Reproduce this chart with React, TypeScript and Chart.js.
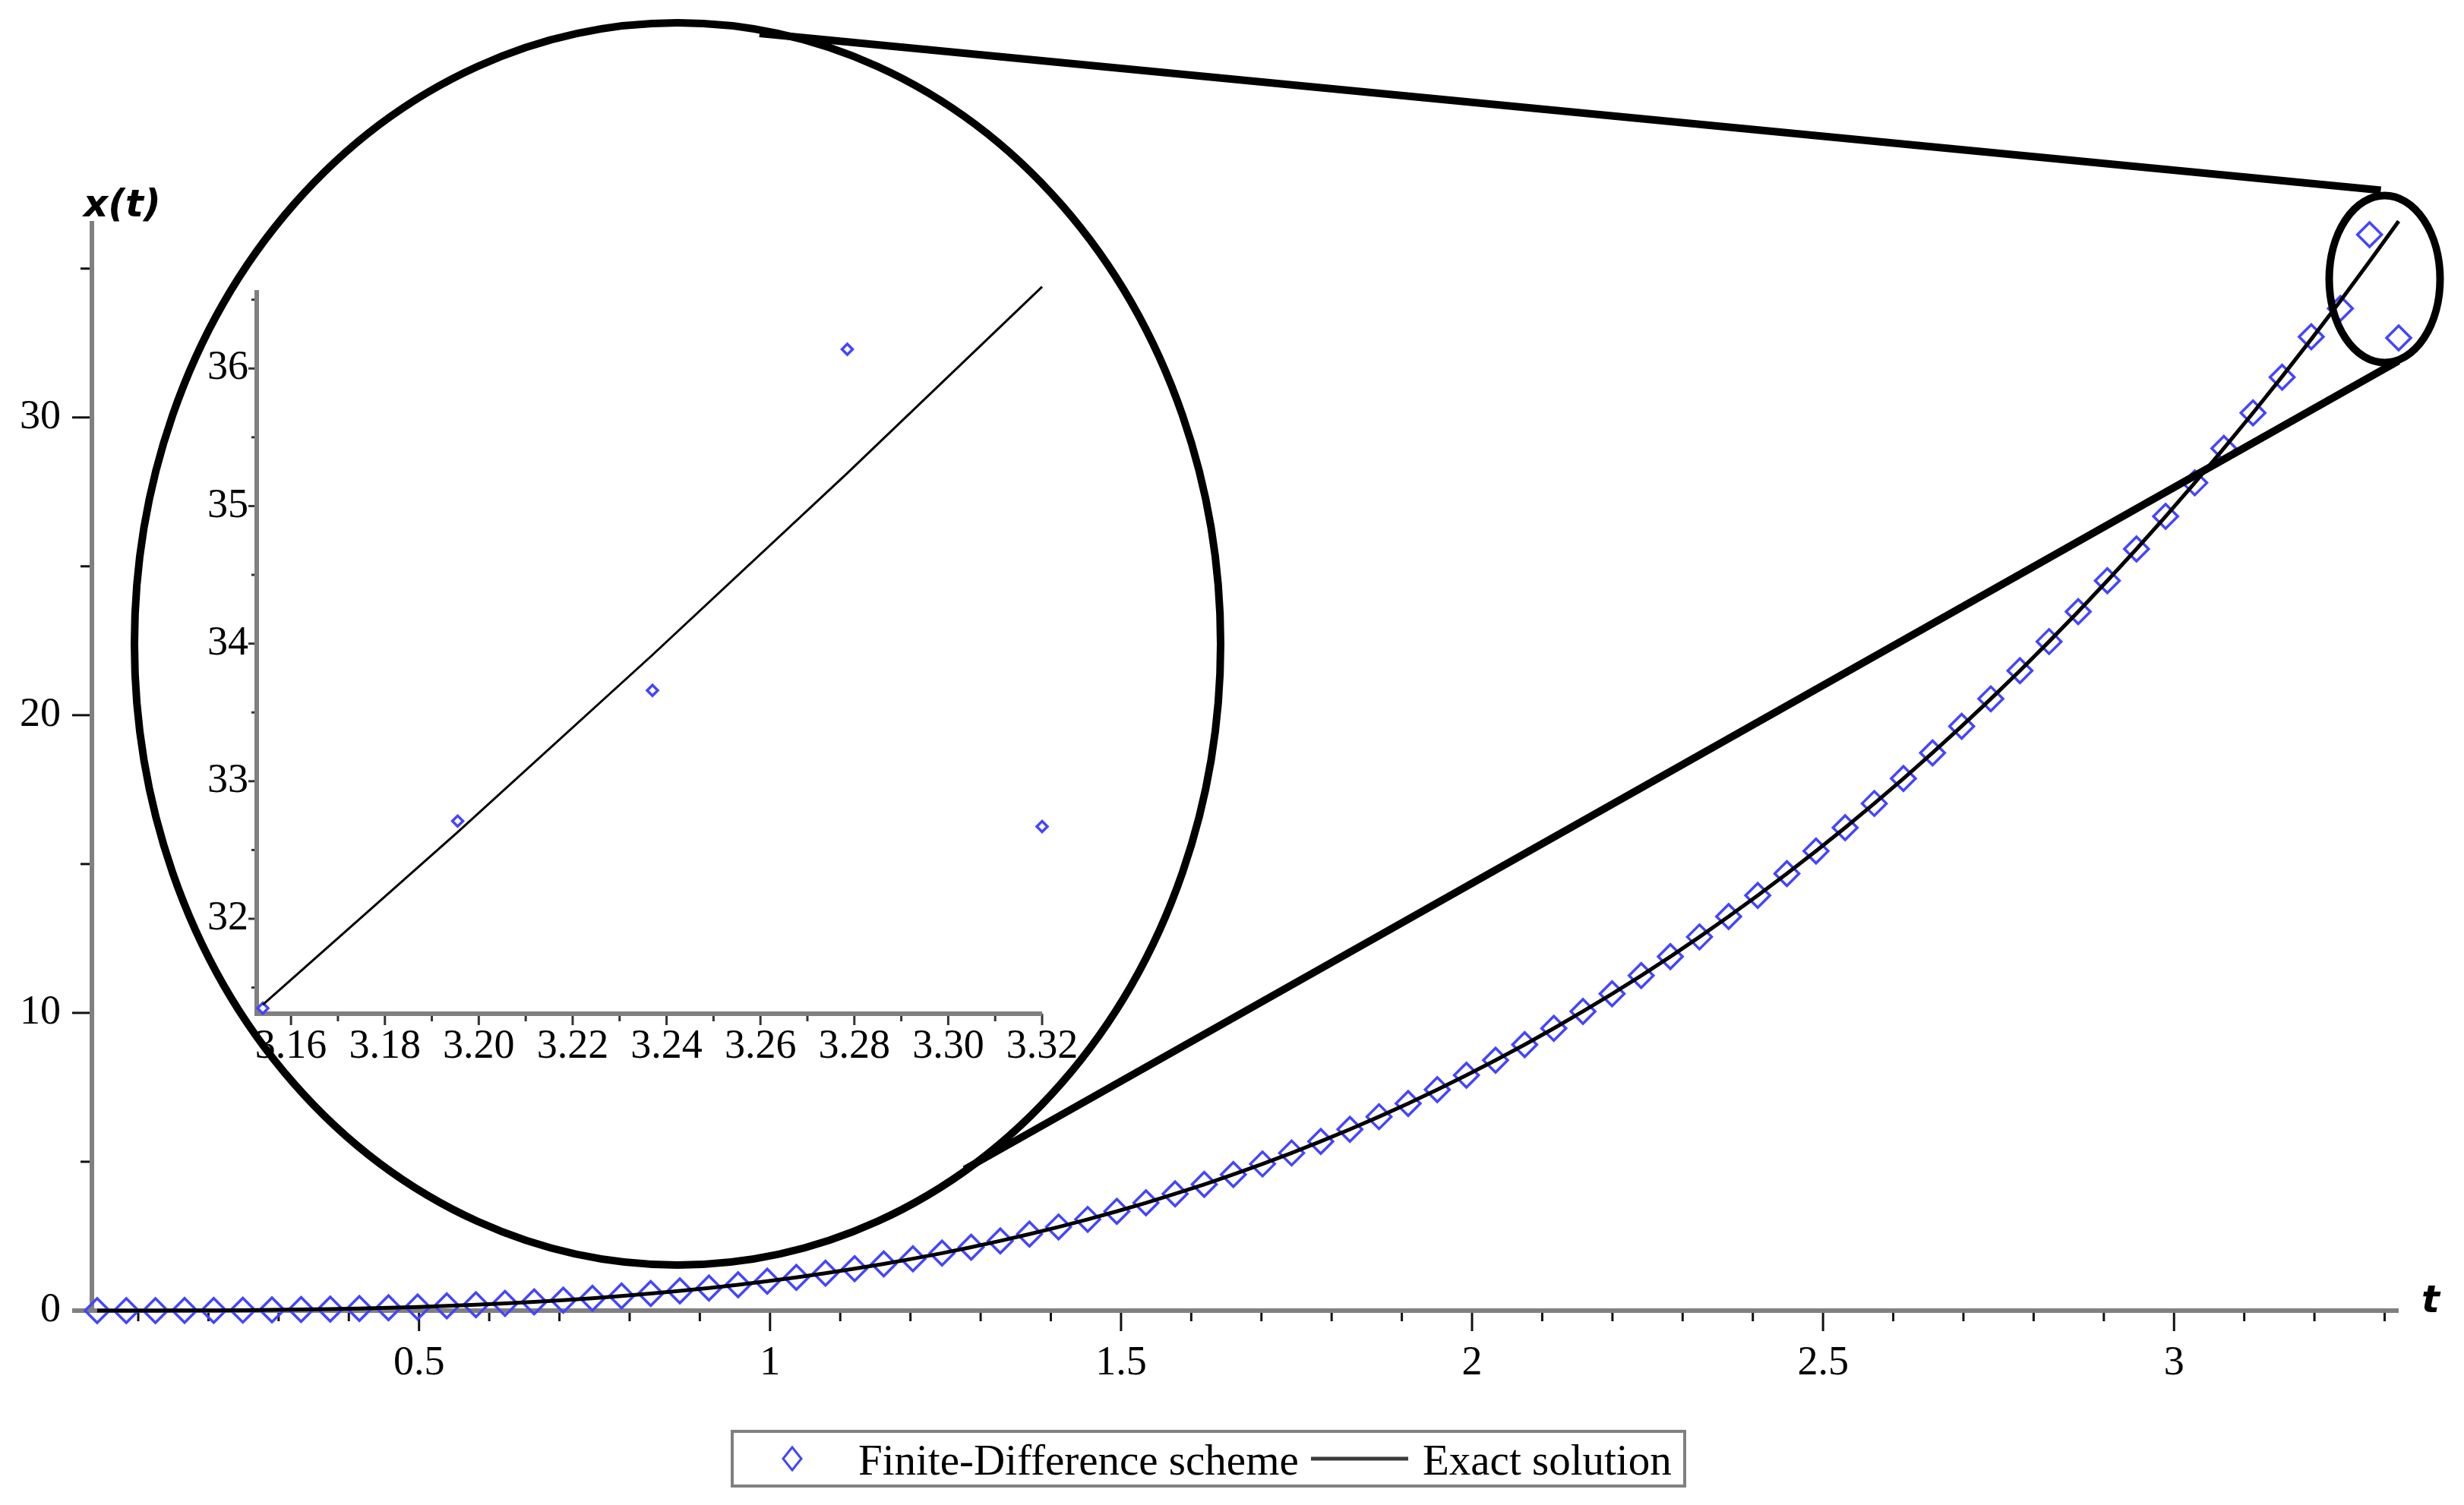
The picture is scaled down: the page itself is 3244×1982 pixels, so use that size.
import React, { useEffect, useRef } from 'react';
import { Chart, registerables } from 'chart.js';

Chart.register(...registerables);

// ---------------- data ----------------
const tValues = [
  0.0415, 0.083, 0.1245, 0.166, 0.2075, 0.249, 0.2905, 0.332, 0.3735, 0.415,
  0.4565, 0.498, 0.5395, 0.581, 0.6225, 0.664, 0.7055, 0.747, 0.7885, 0.83,
  0.8715, 0.913, 0.9545, 0.996, 1.0375, 1.079, 1.1205, 1.162, 1.2035, 1.245,
  1.2865, 1.328, 1.3695, 1.411, 1.4525, 1.494, 1.5355, 1.577, 1.6185, 1.66,
  1.7015, 1.743, 1.7845, 1.826, 1.8675, 1.909, 1.9505, 1.992, 2.0335, 2.075,
  2.1165, 2.158, 2.1995, 2.241, 2.2825, 2.324, 2.3655, 2.407, 2.4485, 2.49,
  2.5315, 2.573, 2.6145, 2.656, 2.6975, 2.739, 2.7805, 2.822, 2.8635, 2.905,
  2.9465, 2.988, 3.0295, 3.071, 3.1125, 3.154, 3.1955, 3.237, 3.2785, 3.32,
];

const exactValues = [
  0.0001, 0.0006, 0.0019, 0.0046, 0.0089, 0.0154, 0.0245, 0.0366, 0.0521, 0.0715,
  0.0951, 0.1235, 0.157, 0.1961, 0.2412, 0.2927, 0.3511, 0.4168, 0.4902, 0.5718,
  0.6619, 0.7611, 0.8696, 0.988, 1.1168, 1.2562, 1.4068, 1.569, 1.7431, 1.9298,
  2.1292, 2.342, 2.5685, 2.8092, 3.0644, 3.3346, 3.6204, 3.922, 4.2398, 4.5743,
  4.926, 5.2953, 5.6826, 6.0884, 6.5131, 6.957, 7.4207, 7.9045, 8.409, 8.934,
  9.481, 10.05, 10.641, 11.254, 11.891, 12.552, 13.236, 13.945, 14.679, 15.438,
  16.223, 17.034, 17.872, 18.736, 19.628, 20.548, 21.496, 22.473, 23.48, 24.515,
  25.581, 26.677, 27.804, 28.962, 30.153, 31.375, 32.63, 33.918, 35.239, 36.594,
];

const fdValues = [
  0.0001, 0.0006, 0.0019, 0.0046, 0.0089, 0.0154, 0.0245, 0.0366, 0.0521, 0.0715,
  0.0951, 0.1235, 0.157, 0.1961, 0.2412, 0.2927, 0.3511, 0.4168, 0.4902, 0.5718,
  0.6619, 0.7611, 0.8696, 0.988, 1.1168, 1.2562, 1.4068, 1.569, 1.7431, 1.9298,
  2.1292, 2.342, 2.5685, 2.8092, 3.0644, 3.3346, 3.6204, 3.922, 4.2398, 4.5743,
  4.926, 5.2953, 5.6826, 6.0884, 6.5131, 6.957, 7.4207, 7.9045, 8.409, 8.934,
  9.481, 10.05, 10.641, 11.254, 11.891, 12.552, 13.236, 13.945, 14.679, 15.438,
  16.223, 17.034, 17.872, 18.736, 19.628, 20.548, 21.496, 22.473, 23.48, 24.515,
  25.581, 26.677, 27.804, 28.962, 30.153, 31.35, 32.71, 33.66, 36.14, 32.67,
];

const seriesLabels = ['Finite-Difference scheme', 'Exact solution'];
const axisTitles = ['x(t)', 't'];

const mainXTicks = [
  0.1, 0.2, 0.3, 0.4, 0.5, 0.6, 0.7, 0.8, 0.9, 1.0, 1.1, 1.2, 1.3, 1.4, 1.5, 1.6, 1.7,
  1.8, 1.9, 2.0, 2.1, 2.2, 2.3, 2.4, 2.5, 2.6, 2.7, 2.8, 2.9, 3.0, 3.1, 3.2, 3.3,
];
const mainXLabelTicks = [0.5, 1, 1.5, 2, 2.5, 3];
const mainXLabels = ['0.5', '1', '1.5', '2', '2.5', '3'];
const mainYTicks = [0, 5, 10, 15, 20, 25, 30, 35];
const mainYLabelTicks = [0, 10, 20, 30];
const mainYLabels = ['0', '10', '20', '30'];

const insetXTicks = [
  3.16, 3.17, 3.18, 3.19, 3.2, 3.21, 3.22, 3.23, 3.24, 3.25, 3.26, 3.27, 3.28, 3.29, 3.3, 3.31, 3.32,
];
const insetXLabelTicks = [3.16, 3.18, 3.2, 3.22, 3.24, 3.26, 3.28, 3.3, 3.32];
const insetXLabels = ['3.16', '3.18', '3.20', '3.22', '3.24', '3.26', '3.28', '3.30', '3.32'];
const insetYTicks = [31.5, 32, 32.5, 33, 33.5, 34, 34.5, 35, 35.5, 36, 36.5];
const insetYLabelTicks = [32, 33, 34, 35, 36];
const insetYLabels = ['32', '33', '34', '35', '36'];
const insetFirstIndex = 75;

// ---------------- styling ----------------
const W = 3244;
const H = 1982;
const SERIF = '"Liberation Serif", "Times New Roman", serif';
const BLUE = '#4444ff';
const AXIS_GRAY = '#808080';

function labelFor(v: number, ticks: number[], labels: string[]): string {
  const i = ticks.findIndex((t) => Math.abs(t - v) < 1e-6);
  return i >= 0 ? labels[i] : '';
}

function seg(ctx: CanvasRenderingContext2D, x1: number, y1: number, x2: number, y2: number) {
  ctx.beginPath();
  ctx.moveTo(x1, y1);
  ctx.lineTo(x2, y2);
  ctx.stroke();
}

const mainDecor = {
  id: 'mainDecor',
  beforeDatasetsDraw(chart: any) {
    const ctx = chart.ctx as CanvasRenderingContext2D;
    const xs = chart.scales.x;
    const ys = chart.scales.y;
    const a = chart.chartArea;
    ctx.save();
    ctx.lineCap = 'butt';
    ctx.strokeStyle = '#111';
    ctx.lineWidth = 3;
    mainXTicks.forEach((v) => {
      const px = xs.getPixelForValue(v);
      const major = labelFor(v, mainXLabelTicks, mainXLabels) !== '';
      seg(ctx, px, a.bottom, px, a.bottom + (major ? 27 : 14));
    });
    mainYTicks.forEach((v) => {
      const py = ys.getPixelForValue(v);
      const major = labelFor(v, mainYLabelTicks, mainYLabels) !== '';
      seg(ctx, a.left - (major ? 26 : 15), py, a.left, py);
    });
    ctx.strokeStyle = AXIS_GRAY;
    ctx.lineWidth = 6;
    seg(ctx, a.left, a.top, a.left, a.bottom + 3);
    seg(ctx, a.left - 26, a.bottom, a.right, a.bottom);
    ctx.restore();
  },
  afterDraw(chart: any) {
    const ctx = chart.ctx as CanvasRenderingContext2D;
    const xs = chart.scales.x;
    const ys = chart.scales.y;
    const a = chart.chartArea;
    ctx.save();
    // magnifier ellipses
    ctx.strokeStyle = '#000';
    ctx.lineWidth = 10;
    ctx.beginPath();
    ctx.ellipse(892, 848, 715, 818, 0, 0, Math.PI * 2);
    ctx.stroke();
    const scx = xs.getPixelForValue(3.3);
    const scy = ys.getPixelForValue(34.65);
    ctx.beginPath();
    ctx.ellipse(scx, scy, 73, 110, 0, 0, Math.PI * 2);
    ctx.stroke();
    // connectors
    ctx.lineWidth = 10;
    seg(ctx, 1000, 44, scx - 5, scy - 117);
    seg(ctx, 1270, 1540, scx + 18, scy + 108);

    // axis titles
    ctx.fillStyle = '#000';
    ctx.font = 'italic bold 50px "DejaVu Sans", sans-serif';
    ctx.textBaseline = 'alphabetic';
    ctx.textAlign = 'left';
    ctx.fillText(axisTitles[0], 110, 285);
    ctx.fillText(axisTitles[1], a.right + 30, a.bottom + 2);

    // legend
    const lx = 964, ly = 1885, lw = 1254, lh = 72;
    ctx.strokeStyle = AXIS_GRAY;
    ctx.lineWidth = 4;
    ctx.strokeRect(lx, ly, lw, lh);
    const cy = ly + lh / 2;
    ctx.strokeStyle = BLUE;
    ctx.lineWidth = 3;
    ctx.beginPath();
    ctx.moveTo(1043 - 12, cy);
    ctx.lineTo(1043, cy - 15);
    ctx.lineTo(1043 + 12, cy);
    ctx.lineTo(1043, cy + 15);
    ctx.closePath();
    ctx.stroke();
    ctx.font = '57px ' + SERIF;
    ctx.fillStyle = '#000';
    ctx.fillText(seriesLabels[0], 1130, cy + 21);
    ctx.strokeStyle = '#3a3a3a';
    ctx.lineWidth = 5;
    seg(ctx, 1726, cy, 1854, cy);
    ctx.fillText(seriesLabels[1], 1873, cy + 21);
    ctx.restore();
  },
};

const insetDecor = {
  id: 'insetDecor',
  beforeDatasetsDraw(chart: any) {
    const ctx = chart.ctx as CanvasRenderingContext2D;
    const xs = chart.scales.x;
    const ys = chart.scales.y;
    const a = chart.chartArea;
    ctx.save();
    ctx.strokeStyle = '#333';
    ctx.lineWidth = 3;
    insetXTicks.forEach((v) => {
      const px = xs.getPixelForValue(v);
      const major = labelFor(v, insetXLabelTicks, insetXLabels) !== '';
      seg(ctx, px, a.bottom, px, a.bottom + (major ? 15 : 10));
    });
    insetYTicks.forEach((v) => {
      const py = ys.getPixelForValue(v);
      const major = labelFor(v, insetYLabelTicks, insetYLabels) !== '';
      seg(ctx, a.left - (major ? 11 : 7), py, a.left, py);
    });
    ctx.strokeStyle = AXIS_GRAY;
    ctx.lineWidth = 6;
    seg(ctx, a.left, a.top, a.left, a.bottom + 3);
    seg(ctx, a.left - 3, a.bottom, a.right, a.bottom);
    ctx.restore();
  },
};

function pts(xv: number[], yv: number[]) {
  return xv.map((x, i) => ({ x, y: yv[i] }));
}

function tickFont() {
  return { family: SERIF, size: 54 };
}

export default function App() {
  const mainRef = useRef<HTMLCanvasElement | null>(null);
  const insetRef = useRef<HTMLCanvasElement | null>(null);

  useEffect(() => {
    if (!mainRef.current || !insetRef.current) return;

    const main = new Chart(mainRef.current, {
      type: 'scatter',
      data: {
        datasets: [
          {
            label: seriesLabels[1],
            data: pts(tValues, exactValues),
            showLine: true,
            borderColor: '#000',
            borderWidth: 5,
            pointRadius: 0,
            order: 0,
            clip: false,
          } as any,
          {
            label: seriesLabels[0],
            data: pts(tValues, fdValues),
            showLine: false,
            pointStyle: 'rectRot',
            pointRadius: 16,
            pointBorderWidth: 3.5,
            pointBorderColor: BLUE,
            pointBackgroundColor: 'rgba(0,0,0,0)',
            borderColor: BLUE,
            backgroundColor: 'rgba(0,0,0,0)',
            order: 1,
            clip: false,
          } as any,
        ],
      },
      options: {
        responsive: false,
        animation: false,
        devicePixelRatio: 1,
        layout: { padding: { left: 0, top: 291, right: 86, bottom: 156 } },
        plugins: { legend: { display: false }, tooltip: { enabled: false } },
        scales: {
          x: {
            type: 'linear',
            min: 0.034,
            max: 3.32,
            grid: { display: false, drawTicks: false },
            border: { display: false },
            afterBuildTicks: (s: any) => {
              s.ticks = mainXTicks.map((v) => ({ value: v }));
            },
            afterFit: (s: any) => {
              s.height = 100;
            },
            ticks: {
              autoSkip: false,
              maxRotation: 0,
              minRotation: 0,
              padding: 37,
              color: '#000',
              font: tickFont(),
              callback: (v: any) => labelFor(Number(v), mainXLabelTicks, mainXLabels),
            },
          },
          y: {
            type: 'linear',
            min: 0,
            max: 36.6,
            grid: { display: false, drawTicks: false },
            border: { display: false },
            afterBuildTicks: (s: any) => {
              s.ticks = mainYTicks.map((v) => ({ value: v }));
            },
            afterFit: (s: any) => {
              s.width = 121;
            },
            ticks: {
              autoSkip: false,
              padding: 41,
              color: '#000',
              font: tickFont(),
              callback: (v: any) => labelFor(Number(v), mainYLabelTicks, mainYLabels),
            },
          },
        },
      } as any,
      plugins: [mainDecor],
    });

    const inset = new Chart(insetRef.current, {
      type: 'scatter',
      data: {
        datasets: [
          {
            label: seriesLabels[1],
            data: pts(tValues.slice(insetFirstIndex), exactValues.slice(insetFirstIndex)),
            showLine: true,
            borderColor: '#000',
            borderWidth: 3,
            pointRadius: 0,
            order: 0,
            clip: false,
          } as any,
          {
            label: seriesLabels[0],
            data: pts(tValues.slice(insetFirstIndex), fdValues.slice(insetFirstIndex)),
            showLine: false,
            pointStyle: 'rectRot',
            pointRadius: 7,
            pointBorderWidth: 3.5,
            pointBorderColor: BLUE,
            pointBackgroundColor: 'rgba(0,0,0,0)',
            order: 1,
            clip: false,
          } as any,
        ],
      },
      options: {
        responsive: false,
        animation: false,
        devicePixelRatio: 1,
        layout: { padding: { left: 238, top: 382, right: 1872, bottom: 547 } },
        plugins: { legend: { display: false }, tooltip: { enabled: false } },
        scales: {
          x: {
            type: 'linear',
            min: 3.1527,
            max: 3.32,
            grid: { display: false, drawTicks: false },
            border: { display: false },
            afterBuildTicks: (s: any) => {
              s.ticks = insetXTicks.map((v) => ({ value: v }));
            },
            afterFit: (s: any) => {
              s.height = 100;
            },
            ticks: {
              autoSkip: false,
              maxRotation: 0,
              minRotation: 0,
              padding: 11,
              color: '#000',
              font: tickFont(),
              callback: (v: any) => labelFor(Number(v), insetXLabelTicks, insetXLabels),
            },
          },
          y: {
            type: 'linear',
            min: 31.31,
            max: 36.57,
            grid: { display: false, drawTicks: false },
            border: { display: false },
            afterBuildTicks: (s: any) => {
              s.ticks = insetYTicks.map((v) => ({ value: v }));
            },
            afterFit: (s: any) => {
              s.width = 100;
            },
            ticks: {
              autoSkip: false,
              padding: 11,
              color: '#000',
              font: tickFont(),
              callback: (v: any) => labelFor(Number(v), insetYLabelTicks, insetYLabels),
            },
          },
        },
      } as any,
      plugins: [insetDecor],
    });

    return () => {
      main.destroy();
      inset.destroy();
    };
  }, []);

  const canvasStyle: React.CSSProperties = {
    position: 'absolute',
    left: 0,
    top: 0,
    width: W + 'px',
    height: H + 'px',
  };

  return (
    <div style={{ position: 'absolute', left: 0, top: 0, width: W, height: H, background: '#fff' }}>
      <canvas ref={mainRef} width={W} height={H} style={canvasStyle} />
      <canvas ref={insetRef} width={W} height={H} style={{ ...canvasStyle, pointerEvents: 'none' }} />
    </div>
  );
}
